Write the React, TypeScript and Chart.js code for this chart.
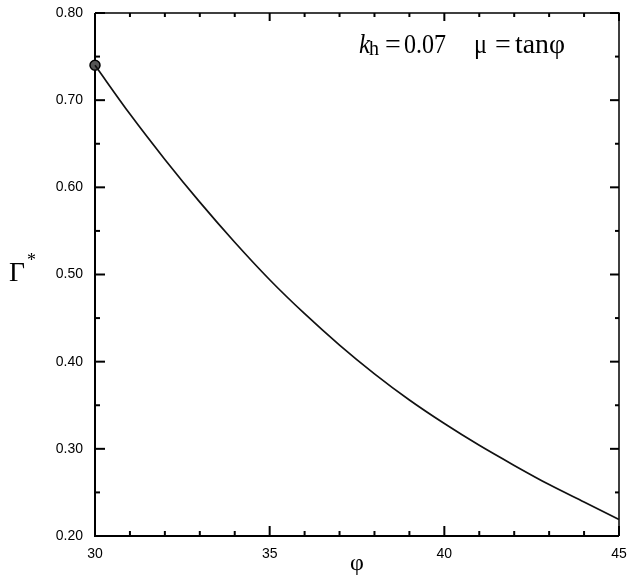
import { useEffect, useRef } from 'react';
import { Chart, registerables } from 'chart.js';

Chart.register(...registerables);

// Data
const phiValues = [30, 31, 32, 33, 34, 35, 36, 37, 38, 39, 40, 41, 42, 43, 44, 45];
const gammaValues = [0.740, 0.684, 0.632, 0.583, 0.537, 0.494, 0.455, 0.419, 0.386, 0.356, 0.329, 0.304, 0.281, 0.259, 0.239, 0.219];
const markerPhi = [30];
const markerGamma = [0.74];
const xTickValues = [30, 35, 40, 45];
const yTickValues = [0.2, 0.3, 0.4, 0.5, 0.6, 0.7, 0.8];

const framePlugin = {
  id: 'frame',
  beforeDatasetsDraw(chart: any) {
    const { ctx, chartArea, scales } = chart;
    const { left, right, top, bottom } = chartArea;
    const x = scales.x;
    const y = scales.y;
    ctx.save();
    ctx.strokeStyle = '#000';
    ctx.lineCap = 'butt';
    // left and bottom axes
    ctx.lineWidth = 2;
    ctx.beginPath();
    ctx.moveTo(left, top);
    ctx.lineTo(left, bottom);
    ctx.lineTo(right, bottom);
    ctx.stroke();
    // top and right
    ctx.lineWidth = 1.5;
    ctx.beginPath();
    ctx.moveTo(left, top);
    ctx.lineTo(right, top);
    ctx.lineTo(right, bottom);
    ctx.stroke();
    // x ticks (minor every 1, major every 5)
    ctx.lineWidth = 2;
    for (let v = x.min; v <= x.max + 1e-9; v += 1) {
      const px = x.getPixelForValue(v);
      const major = Math.abs(v % 5) < 1e-9;
      ctx.beginPath();
      ctx.moveTo(px, bottom);
      ctx.lineTo(px, bottom - (major ? 10 : 5));
      ctx.stroke();
      ctx.beginPath();
      ctx.moveTo(px, top);
      ctx.lineTo(px, top + (major ? 8 : 4));
      ctx.stroke();
    }
    // y ticks (minor every 0.05, major every 0.1)
    const n = Math.round((y.max - y.min) / 0.05);
    for (let i = 0; i <= n; i++) {
      const v = y.min + i * 0.05;
      const py = y.getPixelForValue(v);
      const major = i % 2 === 0;
      ctx.beginPath();
      ctx.moveTo(left, py);
      ctx.lineTo(left + (major ? 10 : 5), py);
      ctx.stroke();
      ctx.beginPath();
      ctx.moveTo(right, py);
      ctx.lineTo(right - (major ? 9 : 4), py);
      ctx.stroke();
    }
    ctx.restore();
  },
  afterDraw(chart: any) {
    const { ctx } = chart;
    ctx.save();
    ctx.fillStyle = '#000';
    ctx.textBaseline = 'alphabetic';
    ctx.textAlign = 'left';
    // annotation: k_h = 0.07   μ = tanφ
    ctx.font = 'italic 28px "Liberation Serif"';
    ctx.fillText('k', 359, 53, 11);
    ctx.font = '20px "Liberation Serif"';
    ctx.fillText('h', 369, 55, 12);
    ctx.font = '28px "Liberation Serif"';
    ctx.fillText('=', 385, 53, 17);
    ctx.fillText('0.07', 404, 53, 42);
    ctx.fillText('μ', 474, 53, 13);
    ctx.fillText('=', 495, 53, 17);
    ctx.fillText('tanφ', 515, 53, 50);
    // y axis title Γ*
    ctx.font = '28px "Liberation Serif"';
    ctx.fillText('Γ', 9, 281, 16);
    ctx.font = '18px "Liberation Serif"';
    ctx.fillText('*', 27, 266);
    // x axis title φ
    ctx.font = '24px "Liberation Serif"';
    ctx.textAlign = 'center';
    ctx.fillText('φ', 357, 570);
    ctx.restore();
  },
};

const zeroPadding = (scale: any) => {
  scale.paddingLeft = 0;
  scale.paddingRight = 0;
  scale.paddingTop = 0;
  scale.paddingBottom = 0;
};

export default function App() {
  const canvasRef = useRef<HTMLCanvasElement | null>(null);

  useEffect(() => {
    document.body.style.margin = '0';
    const canvas = canvasRef.current;
    if (!canvas) return;
    const chart = new Chart(canvas, {
      type: 'line',
      data: {
        datasets: [
          {
            data: phiValues.map((p, i) => ({ x: p, y: gammaValues[i] })),
            borderColor: '#111',
            borderWidth: 1.7,
            pointRadius: 0,
            cubicInterpolationMode: 'monotone',
            fill: false,
            clip: false as any,
          },
          {
            data: markerPhi.map((p, i) => ({ x: p, y: markerGamma[i] })),
            showLine: false,
            pointRadius: 5,
            pointBackgroundColor: '#555',
            pointBorderColor: '#000',
            pointBorderWidth: 1.5,
            clip: false as any,
          },
        ],
      },
      options: {
        responsive: false,
        animation: false,
        events: [],
        layout: { padding: { left: 0, right: 10, top: 13, bottom: 0 } },
        plugins: {
          legend: { display: false },
          tooltip: { enabled: false },
        },
        scales: {
          x: {
            type: 'linear',
            min: 30,
            max: 45,
            afterBuildTicks: (scale: any) => {
              scale.ticks = xTickValues.map((v) => ({ value: v }));
            },
            afterFit: (scale: any) => {
              scale.height = 41;
              zeroPadding(scale);
            },
            grid: { display: false, drawTicks: false },
            border: { display: false },
            ticks: {
              color: '#000',
              padding: 10,
              maxRotation: 0,
              font: { family: '"Liberation Sans", Arial, sans-serif', size: 14 },
              callback: (v: any) => String(v),
            },
          },
          y: {
            type: 'linear',
            min: 0.2,
            max: 0.8,
            afterBuildTicks: (scale: any) => {
              scale.ticks = yTickValues.map((v) => ({ value: v }));
            },
            afterFit: (scale: any) => {
              scale.width = 95;
              zeroPadding(scale);
            },
            grid: { display: false, drawTicks: false },
            border: { display: false },
            ticks: {
              color: '#000',
              padding: 12,
              font: { family: '"Liberation Sans", Arial, sans-serif', size: 14 },
              callback: (v: any) => Number(v).toFixed(2),
            },
          },
        },
      },
      plugins: [framePlugin],
    });
    return () => chart.destroy();
  }, []);

  return (
    <div style={{ width: 629, height: 577 }}>
      <canvas ref={canvasRef} width={629} height={577} />
    </div>
  );
}
